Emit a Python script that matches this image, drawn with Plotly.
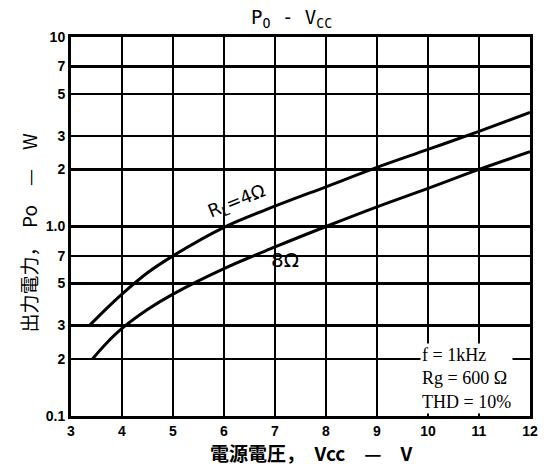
import plotly.graph_objects as go

# Data
v_4ohm = [3.36, 3.7, 4.0, 4.5, 5.0, 6.0, 7.0, 8.0, 9.0, 10.0, 11.0, 12.0]
p_4ohm = [0.30, 0.37, 0.44, 0.57, 0.70, 0.99, 1.28, 1.62, 2.05, 2.55, 3.18, 4.00]
v_8ohm = [3.42, 3.7, 4.0, 4.5, 5.0, 6.0, 7.0, 8.0, 9.0, 10.0, 11.0, 12.0]
p_8ohm = [0.20, 0.243, 0.29, 0.365, 0.44, 0.60, 0.78, 1.00, 1.27, 1.59, 2.00, 2.48]

x_ticks = [3, 4, 5, 6, 7, 8, 9, 10, 11, 12]
y_tickvals = [0.1, 0.2, 0.3, 0.5, 0.7, 1, 2, 3, 5, 7, 10]
y_ticktext = ["0.1", "2", "3", "5", "7", "1.0", "2", "3", "5", "7", "10"]

fig = go.Figure()
for v, p in [(v_4ohm, p_4ohm), (v_8ohm, p_8ohm)]:
    fig.add_trace(go.Scatter(x=v, y=p, mode="lines",
                             line=dict(color="black", width=3, shape="spline", smoothing=1.0),
                             showlegend=False, hoverinfo="skip"))

tickfont = dict(family="Liberation Sans", size=14, color="black", weight="bold")

fig.update_layout(
    width=550, height=467,
    margin=dict(l=71, r=12, t=37, b=51),
    paper_bgcolor="white", plot_bgcolor="white",
    xaxis=dict(range=[3, 12], tickvals=x_ticks, ticktext=[str(t) for t in x_ticks],
               showgrid=True, gridcolor="black", gridwidth=2.5,
               showline=True, linecolor="black", linewidth=3, mirror=True,
               ticks="", tickfont=tickfont, zeroline=False),
    yaxis=dict(type="log", range=[-1, 1], tickvals=y_tickvals, ticktext=y_ticktext,
               showgrid=True, gridcolor="black", gridwidth=2.5,
               showline=True, linecolor="black", linewidth=3, mirror=True,
               ticks="", tickfont=tickfont, zeroline=False),
    font=dict(family="Liberation Sans", color="black"),
)

fig.add_annotation(xref="paper", yref="paper", x=0.48, y=1.05, yanchor="middle",
                   text="P<sub>O</sub> - V<sub>CC</sub>", showarrow=False,
                   font=dict(family="DejaVu Sans Mono", size=19, color="black"))
fig.add_annotation(xref="paper", yref="paper", x=0.525, y=-0.095, yanchor="middle",
                   text="電源電圧，\u2002Vcc\u2002\u2002—\u2002\u2002V", showarrow=False,
                   font=dict(family="Noto Sans CJK JP", size=19, color="black", weight="bold"))
fig.add_annotation(xref="paper", yref="paper", x=-0.093, y=0.485, xanchor="center",
                   text="出力電力，\u2002Po\u2002\u2002—\u2002\u2002W", showarrow=False,
                   textangle=-90,
                   font=dict(family="Noto Sans CJK JP", size=19, color="black"))
fig.add_annotation(x=6.25, y=0.128, text="R<sub>L</sub>=4Ω", showarrow=False,
                   textangle=-22, font=dict(family="DejaVu Sans", size=18, color="black"))
fig.add_annotation(x=7.2, y=-0.175, text="8Ω", showarrow=False,
                   font=dict(family="DejaVu Sans", size=20, color="black"))
fig.add_annotation(x=10.75, y=-0.80, text="f = 1kHz<br>Rg = 600 Ω<br>THD = 10%",
                   showarrow=False, align="left", bgcolor="white",
                   font=dict(family="Liberation Serif", size=18, color="black"))

fig.write_html("out.html", config={"displayModeBar": False, "staticPlot": True})

# remove default 8px page margin so the figure sits at the window origin
with open("out.html", encoding="utf-8") as f:
    html = f.read()
html = html.replace("<head>", "<head><style>html,body{margin:0;padding:0;overflow:hidden}</style>", 1)
with open("out.html", "w", encoding="utf-8") as f:
    f.write(html)
